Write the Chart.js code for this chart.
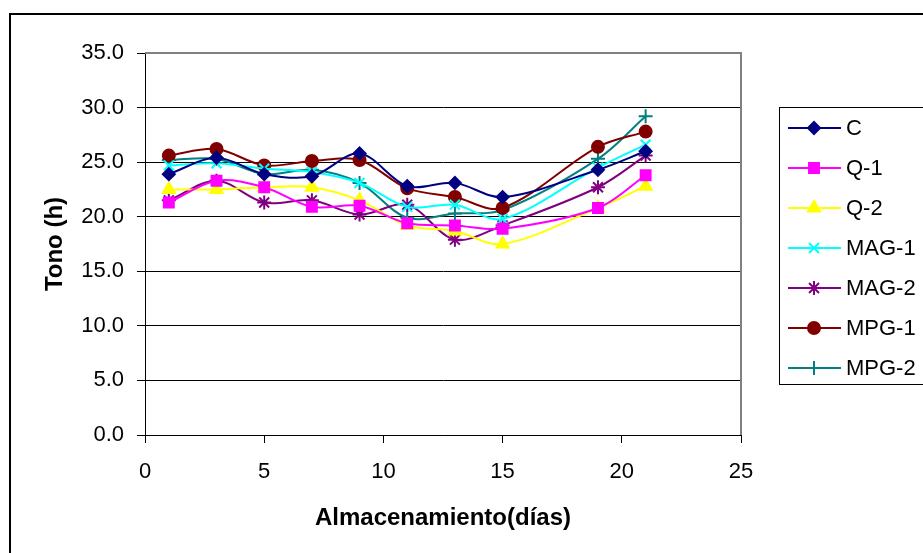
<!DOCTYPE html>
<html>
<head>
<meta charset="utf-8">
<script src="https://cdn.jsdelivr.net/npm/chart.js@4.4.1/dist/chart.umd.min.js"></script>
<style>
  html, body { margin: 0; padding: 0; background: #fff; }
  #wrap { width: 923px; height: 553px; }
</style>
</head>
<body>
<div id="wrap"><canvas id="myChart" width="923" height="553"></canvas></div>
<script>
// data
const days = [1, 3, 5, 7, 9, 11, 13, 15, 19, 21];
const seriesNames = ["C", "Q-1", "Q-2", "MAG-1", "MAG-2", "MPG-1", "MPG-2"];
const valuesC    = [23.9, 25.4, 23.9, 23.7, 25.8, 22.8, 23.1, 21.8, 24.3, 26.0];
const valuesQ1   = [21.3, 23.3, 22.7, 20.9, 21.0, 19.4, 19.2, 18.9, 20.8, 23.8];
const valuesQ2   = [22.5, 22.5, 22.7, 22.7, 21.5, 19.2, 18.7, 17.5, 20.8, 22.8];
const valuesMAG1 = [24.7, 24.9, 24.4, 24.1, 23.1, 20.9, 21.1, 19.8, 24.5, 26.6];
const valuesMAG2 = [21.5, 23.3, 21.3, 21.5, 20.2, 21.1, 17.9, 19.2, 22.7, 25.6];
const valuesMPG1 = [25.6, 26.2, 24.7, 25.1, 25.2, 22.6, 21.8, 20.8, 26.4, 27.8];
const valuesMPG2 = [25.2, 25.3, 23.9, 24.3, 23.1, 19.9, 20.3, 20.6, 25.3, 29.2];
const xTicks = [0, 5, 10, 15, 20, 25];
const yTicks = [0, 5, 10, 15, 20, 25, 30, 35];

document.addEventListener("DOMContentLoaded", function () {
  const font = "'Liberation Sans', Arial, sans-serif";
  const allValues = [valuesC, valuesQ1, valuesQ2, valuesMAG1, valuesMAG2, valuesMPG1, valuesMPG2];
  const colors = ["#000080", "#FF00FF", "#FFFF00", "#00FFFF", "#800080", "#800000", "#008080"];
  const styles = ["rectRot", "rect", "triangle", "crossRot", "star", "circle", "cross"];
  const radii = [6, 7, 7, 7, 7, 6, 7];

  const datasets = seriesNames.map((name, i) => ({
    label: name,
    data: days.map((d, j) => ({ x: d, y: allValues[i][j] })),
    borderColor: colors[i],
    backgroundColor: colors[i],
    borderWidth: 2,
    tension: 0.33,
    pointStyle: styles[i],
    pointRadius: radii[i],
    pointBorderWidth: 2,
    pointBackgroundColor: colors[i],
    pointBorderColor: colors[i]
  }));

  // plot border, outer frame and legend box
  const framePlugin = {
    id: "frame",
    beforeDatasetsDraw(chart) {
      const { ctx, chartArea: a } = chart;
      ctx.save();
      ctx.strokeStyle = "#808080";
      ctx.lineWidth = 2;
      ctx.beginPath();
      ctx.moveTo(a.left, a.top);
      ctx.lineTo(a.right, a.top);
      ctx.lineTo(a.right, a.bottom);
      ctx.stroke();
      ctx.restore();
    },
    afterDraw(chart) {
      const ctx = chart.ctx;
      ctx.save();
      ctx.strokeStyle = "#000";
      ctx.lineWidth = 2;
      ctx.strokeRect(10, 14, 930, 560);
      ctx.lineWidth = 1;
      ctx.strokeRect(779.5, 107.5, 200, 277);
      chart.data.datasets.forEach((ds, i) => {
        const y = 128 + i * 40;
        ctx.strokeStyle = ds.borderColor;
        ctx.fillStyle = ds.backgroundColor;
        ctx.lineWidth = 2;
        ctx.beginPath();
        ctx.moveTo(788, y);
        ctx.lineTo(841, y);
        ctx.stroke();
        Chart.helpers.drawPoint(ctx, {
          pointStyle: ds.pointStyle,
          radius: ds.pointRadius,
          rotation: 0,
          borderWidth: 2
        }, 814, y);
        ctx.fillStyle = "#000";
        ctx.font = "22px " + font;
        ctx.textBaseline = "middle";
        ctx.textAlign = "left";
        ctx.fillText(ds.label, 846, y + 1);
      });
      ctx.restore();
    }
  };

  const config = {
    type: "line",
    data: { datasets },
    options: {
      responsive: false,
      animation: false,
      layout: { padding: { left: 0, top: 53, right: 182, bottom: 0 } },
      plugins: { legend: { display: false }, tooltip: { enabled: false } },
      scales: {
        x: {
          type: "linear",
          min: xTicks[0],
          max: xTicks[xTicks.length - 1],
          afterBuildTicks: s => { s.ticks = xTicks.map(v => ({ value: v })); },
          afterFit: s => { s.height = 118; },
          grid: { drawOnChartArea: false, color: "#000", tickLength: 8 },
          border: { color: "#000", width: 1 },
          ticks: { color: "#000", font: { family: font, size: 22 }, padding: 16, maxRotation: 0 },
          title: {
            display: true,
            text: "Almacenamiento(días)",
            color: "#000",
            font: { family: font, size: 24, weight: "bold" },
            padding: { top: 0, bottom: 20 }
          }
        },
        y: {
          min: yTicks[0],
          max: yTicks[yTicks.length - 1],
          afterBuildTicks: s => { s.ticks = yTicks.map(v => ({ value: v })); },
          afterFit: s => { s.width = 145; },
          grid: { color: "#000", tickLength: 8 },
          border: { color: "#000", width: 1 },
          ticks: {
            color: "#000",
            font: { family: font, size: 22 },
            padding: 13,
            callback: v => v.toFixed(1)
          },
          title: {
            display: true,
            text: "Tono (h)",
            color: "#000",
            font: { family: font, size: 24, weight: "bold" },
            padding: { top: 41, bottom: 0 }
          }
        }
      }
    },
    plugins: [framePlugin]
  };

  new Chart(document.getElementById("myChart"), config);
});
</script>
</body>
</html>
